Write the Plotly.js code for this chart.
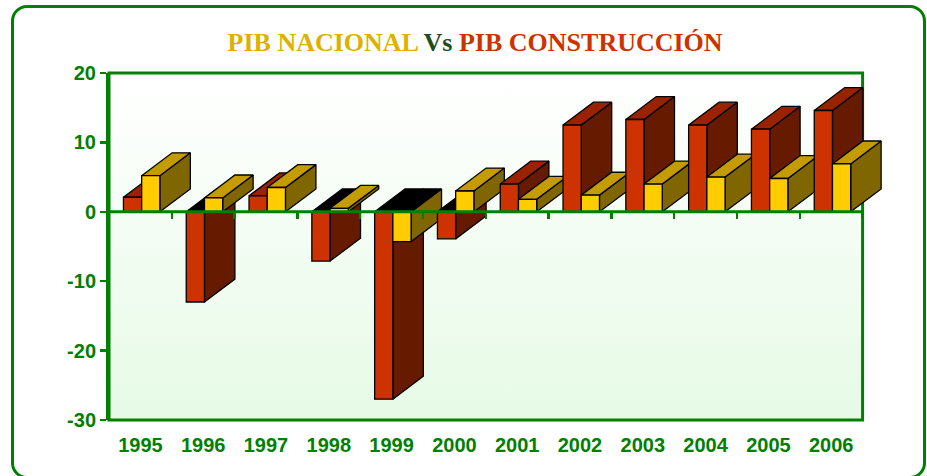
<!DOCTYPE html>
<html>
<head>
<meta charset="utf-8">
<script src="https://cdn.plot.ly/plotly-3.0.1.min.js"></script>
<style>
  html, body { margin: 0; padding: 0; background: #ffffff; }
  #frame { position: absolute; left: 11px; top: 5px; width: 915px; height: 474px;
           box-sizing: border-box; border: 3.5px solid #008000; border-radius: 16px; }
  #grad { position: absolute; left: 109px; top: 73px; width: 754px; height: 347px;
          background: linear-gradient(to bottom, #FFFFFF 0%, #E6FAE6 100%); }
  #chart { position: absolute; left: 0; top: 0; width: 927px; height: 476px; }
</style>
</head>
<body>
<div id="frame"></div>
<div id="grad"></div>
<div id="chart"></div>
<script>
// ---- data ----
const years = ['1995', '1996', '1997', '1998', '1999', '2000', '2001', '2002', '2003', '2004', '2005', '2006'];
const pibConstruccion = [2.1, -13.0, 2.3, -7.1, -27.0, -3.9, 4.0, 12.5, 13.3, 12.5, 11.9, 14.6];
const pibNacional = [5.2, 2.0, 3.5, 0.5, -4.3, 3.0, 1.8, 2.4, 4.0, 5.0, 4.8, 6.9];
const yTicks = [20, 10, 0, -10, -20, -30];

// ---- style ----
const GREEN = '#008000';
const XMAX = 12.5;
const BAR_OFFSET = 0.23, BAR_W = 0.29;
const DX = 0.485, DY = 3.3;
const seriesStyle = [
  { values: pibConstruccion, front: '#CC3300', top: '#992200', side: '#661A00' },
  { values: pibNacional,     front: '#FFCC00', top: '#C49C00', side: '#806600' }
];

function poly(xs, ys, color) {
  return { type: 'scatter', mode: 'lines', x: xs, y: ys, fill: 'toself', fillcolor: color,
           line: { color: '#000000', width: 1.3 }, hoverinfo: 'skip', showlegend: false };
}

const traces = [];
years.forEach((yr, k) => {
  seriesStyle.forEach((s, si) => {
    const v = s.values[k];
    const x0 = k + BAR_OFFSET + si * BAR_W;
    const x1 = x0 + BAR_W;
    const t = Math.max(v, 0);
    traces.push(poly([x1, x1 + DX, x1 + DX, x1, x1], [0, DY, v + DY, v, 0], s.side));
    traces.push(poly([x0, x1, x1 + DX, x0 + DX, x0], [t, t, t + DY, t + DY, t], v < 0 ? '#000000' : s.top));
    traces.push(poly([x0, x1, x1, x0, x0], [0, 0, v, v, 0], s.front));
  });
});
// anchor trace for the zero-line tick axis
traces.push({ type: 'scatter', mode: 'markers', x: [0], y: [0], xaxis: 'x2', marker: { opacity: 0 },
              hoverinfo: 'skip', showlegend: false });

const tickFont = { family: 'Liberation Sans, Arial, sans-serif', size: 20, color: GREEN, weight: 'bold' };

const layout = {
  width: 927, height: 476,
  margin: { l: 109, r: 33, t: 73, b: 56 },
  paper_bgcolor: 'rgba(0,0,0,0)',
  plot_bgcolor: 'rgba(0,0,0,0)',
  showlegend: false,
  title: {
    text: '<b><span style="color:#E0B000">PIB NACIONAL</span> <span style="color:#1E4D1E">Vs</span> <span style="color:#CC3300">PIB CONSTRUCCIÓN</span></b>',
    font: { family: 'Liberation Serif, Times New Roman, serif', size: 26 },
    x: 0.5125, xref: 'container', xanchor: 'center',
    y: 1 - 42 / 476, yref: 'container', yanchor: 'middle'
  },
  xaxis: {
    range: [0, XMAX], showgrid: false, zeroline: false, showline: false, ticks: '',
    tickvals: years.map((_, i) => i + 0.5), ticktext: years,
    tickfont: tickFont, ticklabelstandoff: 11, fixedrange: true
  },
  xaxis2: {
    overlaying: 'x', anchor: 'free', position: 30 / 50, side: 'bottom',
    range: [0, XMAX], showgrid: false, zeroline: false, showline: false,
    ticks: 'outside', ticklen: 6, tickwidth: 2.5, tickcolor: GREEN,
    tickvals: years.map((_, i) => i + 1), showticklabels: false
  },
  yaxis: {
    range: [-30, 20], tickvals: yTicks, ticktext: yTicks.map(String),
    showgrid: false, zeroline: false, showline: true, linecolor: GREEN, linewidth: 3,
    ticks: 'outside', ticklen: 6, tickwidth: 2.5, tickcolor: GREEN,
    tickfont: tickFont, fixedrange: true
  },
  shapes: [
    { type: 'rect', xref: 'paper', yref: 'paper', x0: 0, x1: 12 / XMAX, y0: 0, y1: 1,
      line: { color: GREEN, width: 3 }, layer: 'below' },
    { type: 'line', xref: 'paper', yref: 'paper', x0: 0, x1: 12 / XMAX, y0: 30 / 50, y1: 30 / 50,
      line: { color: GREEN, width: 3 }, layer: 'above' }
  ]
};

Plotly.newPlot('chart', traces, layout, { displayModeBar: false, staticPlot: true });
</script>
</body>
</html>
